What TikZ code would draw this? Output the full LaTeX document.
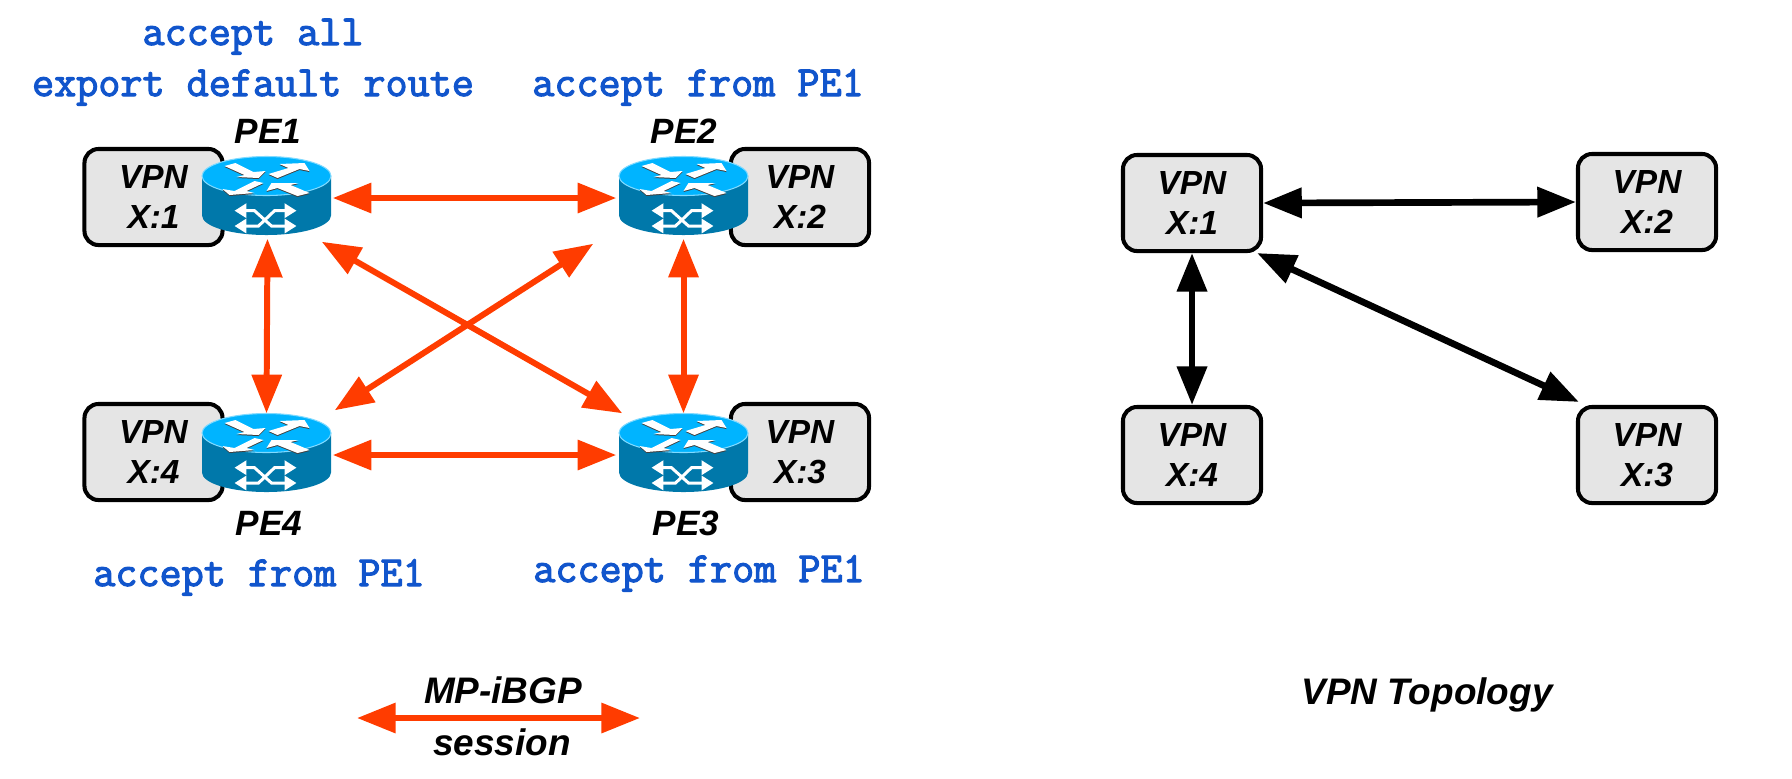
\documentclass[tikz,border=0pt]{standalone}
\usepackage{fontspec}
\setmainfont{Liberation Sans}
\newfontfamily\polfont[FakeBold=2.6]{Latin Modern Mono}
\usepackage{tikz}
\usetikzlibrary{arrows.meta}
\definecolor{sessred}{RGB}{255,60,0}
\definecolor{polblue}{RGB}{17,85,204}
\definecolor{rttop}{RGB}{0,180,255}
\definecolor{rtbody}{RGB}{0,120,170}
\tikzset{
    >={Triangle[length=11pt,width=8.3pt]},
    vpnbox/.style={draw,line width=1.15pt,rounded corners=4pt,fill=black!10,minimum width=1.38cm,minimum height=0.96cm,inner sep=0pt,align=center,font=\fontsize{9.5}{11.4}\selectfont\bfseries\itshape},
    rtnode/.style={minimum width=1.29cm,minimum height=0.78cm,inner sep=0pt},
    lbl/.style={anchor=base,inner sep=0pt,font=\fontsize{10}{12}\selectfont\bfseries\itshape},
    leglbl/.style={lbl,font=\fontsize{10.5}{12}\selectfont\bfseries\itshape},
    policy/.style={anchor=base,inner sep=0pt,text=polblue,font=\fontsize{12.2}{14}\selectfont\polfont},
    session/.style={<->,draw=sessred,fill=sessred,line width=1.7pt},
    topolink/.style={<->,line width=1.9pt},
    xarrow/.style={white,line width=0.85pt,{Triangle[length=3.4pt,width=4pt]}-{Triangle[length=3.4pt,width=4pt]}},
    router/.pic={
        \fill[rtbody] (-64.5,-20) -- (-64.5,19.5) arc[start angle=180,end angle=0,x radius=64.5,y radius=19.5] -- (64.5,-20) -- cycle;
        \draw[rttop!50!white,line width=0.3pt,fill=rttop] (0,-20) ellipse[x radius=64.5,y radius=19.5];
        \foreach \shade/\off in {black!75/1,white/0} {
            \fill[\shade,shift={(0,\off)}] (-42,-30) -- (-31,-33) -- (-13,-24) -- (-1,-25) -- (-8,-18) -- (-30,-19) -- (-22,-21) -- cycle;
            \fill[\shade,shift={(0,\off)}] (2,-22) -- (22,-28) -- (13,-32) -- (38,-33) -- (43,-25) -- (33,-27) -- (11,-18) -- cycle;
            \fill[\shade,shift={(0,\off)}] (-12,-15) -- (-3,-13) -- (-20,-5) -- (-12,-3) -- (-37,-1) -- (-44,-7) -- (-32,-5) -- cycle;
            \fill[\shade,shift={(0,\off)}] (0,-5) -- (5,-13) -- (32,-13) -- (24,-11) -- (43,-3) -- (31,0) -- (11,-8) -- cycle;
        }
        \draw[xarrow] (-32,14.7) -- (-12,14.7) -- (5,30) -- (30,30);
        \draw[xarrow] (-32,30) -- (-8,30) -- (8,14.7) -- (30,14.7);
    }
}
\begin{document}
\begin{tikzpicture}[x=0.01cm,y=-0.01cm]
    \useasboundingbox (0,0) rectangle (1792,778);
    % policies
    \node[policy] (polall) at (253,45) {accept all};
    \node[policy] (polexp) at (253,96) {export default route};
    \node[policy] (pol2) at (698,96) {accept from PE1};
    \node[policy] (pol4) at (259,586) {accept from PE1};
    \node[policy] (pol3) at (699,582) {accept from PE1};
    % sites
    \node[vpnbox] (vpn1) at (153.5,197) {VPN\\X:1};
    \node[vpnbox] (vpn2) at (800,197) {VPN\\X:2};
    \node[vpnbox] (vpn4) at (153.5,452) {VPN\\X:4};
    \node[vpnbox] (vpn3) at (800,452) {VPN\\X:3};
    % routers
    \node[rtnode] (pe1) at (266.5,196) {};
    \node[rtnode] (pe2) at (683.5,196) {};
    \node[rtnode] (pe4) at (266.5,453) {};
    \node[rtnode] (pe3) at (683.5,453) {};
    \foreach \rt in {pe1,pe2,pe3,pe4}
        \pic at (\rt) {router};
    \node[lbl] (lab1) at (268,143) {PE1};
    \node[lbl] (lab2) at (684,143) {PE2};
    \node[lbl] (lab4) at (269,535) {PE4};
    \node[lbl] (lab3) at (686,535) {PE3};
    % sessions
    \draw[session] ([shift={(1,2)}]pe1.east) -- ([shift={(-2,2)}]pe2.west);
    \draw[session] ([shift={(1,2)}]pe4.east) -- ([shift={(-2,2)}]pe3.west);
    \draw[session] ([shift={(1,3)}]pe1.south) -- (pe4.north);
    \draw[session] ([shift={(0,3)}]pe2.south) -- (pe3.north);
    \draw[session] ([shift={(-10,6)}]pe1.south east) -- ([shift={(4,0)}]pe3.north west);
    \draw[session] ([shift={(3,-3)}]pe4.north east) -- ([shift={(-25,8)}]pe2.south west);
    % legend
    \coordinate (legleft) at (357,718);
    \coordinate (legright) at (640,718);
    \draw[session] (legleft) -- (legright);
    \node[leglbl] (legtop) at (503,703) {MP-iBGP};
    \node[leglbl] (legbot) at (502,755) {session};
    % topology
    \node[vpnbox] (topo1) at (1192,203) {VPN\\X:1};
    \node[vpnbox] (topo2) at (1647,202) {VPN\\X:2};
    \node[vpnbox] (topo4) at (1192,455) {VPN\\X:4};
    \node[vpnbox] (topo3) at (1647,455) {VPN\\X:3};
    \draw[topolink] (topo1.east) -- (topo2.west);
    \draw[topolink] (topo1.south) -- (topo4.north);
    \draw[topolink] ([shift={(-6,0)}]topo1.south east) -- ([shift={(3,-3)}]topo3.north west);
    \node[leglbl] (toptitle) at (1427,704) {VPN Topology};
\end{tikzpicture}
\end{document}
